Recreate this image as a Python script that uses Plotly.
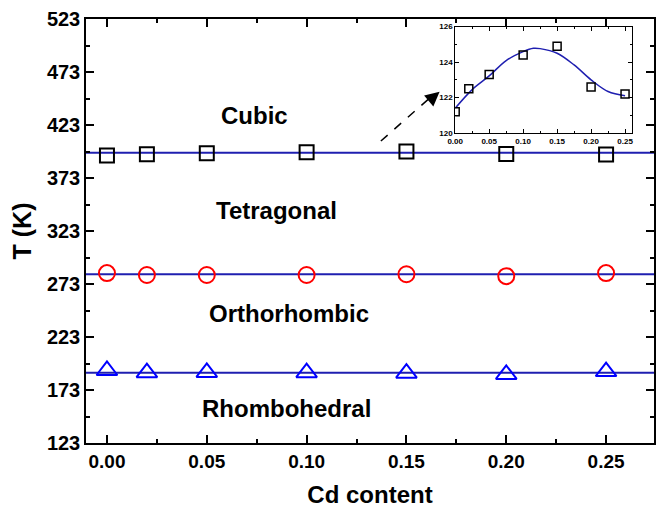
import plotly.graph_objects as go

# ---- data ----
cd = [0.00, 0.02, 0.05, 0.10, 0.15, 0.20, 0.25]
t_cubic = [394.2, 395.5, 396.3, 397.4, 397.9, 395.6, 395.2]
t_ortho = [283.3, 281.5, 281.5, 281.5, 282.2, 280.4, 283.3]
t_rhombo = [191.4, 189.3, 189.6, 189.3, 188.9, 187.7, 190.4]

fit_x = [-0.02, 0.30]
fit_cubic = [396.8, 396.8]
fit_ortho = [282.2, 282.2]
fit_rhombo = [189.3, 189.3]

inset_t = [121.2, 122.5, 123.3, 124.4, 124.9, 122.6, 122.2]
inset_fit_x = [0.0, 0.025, 0.05, 0.075, 0.10, 0.115, 0.125, 0.15, 0.175, 0.20, 0.225, 0.25]
inset_fit_t = [121.4, 122.45, 123.22, 124.09, 124.59, 124.78, 124.76, 124.5, 123.84, 123.0, 122.34, 122.1]

phase_labels = ["Cubic", "Tetragonal", "Orthorhombic", "Rhombohedral"]
phase_x = [0.074, 0.085, 0.091, 0.090]
phase_y = [432, 342, 245, 156]

x_ticks = [0.00, 0.05, 0.10, 0.15, 0.20, 0.25]
y_ticks = [123, 173, 223, 273, 323, 373, 423, 473, 523]

FONT = "Liberation Sans, Arial, sans-serif"
LINE_BLUE = "#1f1fb0"

fig = go.Figure()

# fitted lines
for fy in (fit_cubic, fit_ortho, fit_rhombo):
    fig.add_trace(go.Scatter(x=fit_x, y=fy, mode="lines",
                             line=dict(color=LINE_BLUE, width=2), showlegend=False,
                             hoverinfo="skip"))

fig.add_trace(go.Scatter(x=cd, y=t_cubic, mode="markers", showlegend=False,
                         marker=dict(symbol="square-open", size=14, color="black",
                                     line=dict(width=2, color="black"))))
fig.add_trace(go.Scatter(x=cd, y=t_ortho, mode="markers", showlegend=False,
                         marker=dict(symbol="circle-open", size=16, color="red",
                                     line=dict(width=2, color="red"))))
fig.add_trace(go.Scatter(x=cd, y=t_rhombo, mode="markers", showlegend=False,
                         marker=dict(symbol="triangle-up-open", size=18, color="blue",
                                     line=dict(width=2, color="blue"))))

# inset
fig.add_trace(go.Scatter(x=inset_fit_x, y=inset_fit_t, mode="lines", xaxis="x2", yaxis="y2",
                         line=dict(color=LINE_BLUE, width=1.5, shape="spline"),
                         showlegend=False))
fig.add_trace(go.Scatter(x=cd, y=inset_t, mode="markers", xaxis="x2", yaxis="y2",
                         showlegend=False,
                         marker=dict(symbol="square-open", size=8, color="black",
                                     line=dict(width=1.5, color="black"))))

for lab, px, py in zip(phase_labels, phase_x, phase_y):
    fig.add_annotation(x=px, y=py, xref="x", yref="y", text=lab, showarrow=False,
                       font=dict(family=FONT, size=24, color="black", weight="bold"))

# dashed arrow
fig.add_shape(type="line", xref="x", yref="y", x0=0.1372, y0=407.9, x1=0.1635, y1=451.5,
              line=dict(color="black", width=1.5, dash="dash"))
fig.add_annotation(x=0.1666, y=454.4, xref="x", yref="y", ax=-10, ay=8.5,
                   axref="pixel", ayref="pixel", text="", showarrow=True,
                   arrowhead=2, arrowsize=1.9, arrowwidth=1.5, arrowcolor="black")

axis_common = dict(showline=True, linecolor="black", linewidth=1.5, ticks="inside",
                   tickcolor="black", showgrid=False, zeroline=False, mirror="ticks")

fig.update_layout(
    width=658, height=511,
    margin=dict(l=86, r=2, t=19, b=68),
    plot_bgcolor="white", paper_bgcolor="white",
    font=dict(family=FONT, color="black"),
    xaxis=dict(range=[-0.0105, 0.274], tickvals=x_ticks,
               ticktext=[f"{v:.2f}" for v in x_ticks],
               ticklen=8, tickwidth=1.5,
               minor=dict(ticks="inside", ticklen=4, dtick=0.025, tick0=0, tickcolor="black"),
               tickfont=dict(family=FONT, size=19, weight="bold"),
               title=dict(text="Cd content", font=dict(family=FONT, size=24, weight="bold"),
                          standoff=16),
               **axis_common),
    yaxis=dict(range=[123, 523], tickvals=y_ticks, ticklen=8, tickwidth=1.5,
               minor=dict(ticks="inside", ticklen=4, dtick=25, tick0=123, tickcolor="black"),
               tickfont=dict(family=FONT, size=20, weight="bold"),
               title=dict(text="T (K)", font=dict(family=FONT, size=25, weight="bold"),
                          standoff=8),
               **axis_common),
    xaxis2=dict(domain=[0.650, 0.961], anchor="y2", range=[0, 0.26],
                tickvals=x_ticks, ticktext=[f"{v:.2f}" for v in x_ticks],
                ticklen=4, tickwidth=1,
                minor=dict(ticks="inside", ticklen=2, dtick=0.025, tick0=0, tickcolor="black"),
                tickfont=dict(family=FONT, size=8, weight="bold"),
                showline=True, linecolor="black", linewidth=1, ticks="inside",
                tickcolor="black", showgrid=False, zeroline=False, mirror="ticks"),
    yaxis2=dict(domain=[0.731, 0.982], anchor="x2", range=[120, 126],
                tickvals=[120, 122, 124, 126], ticklen=4, tickwidth=1,
                minor=dict(ticks="inside", ticklen=2, dtick=1, tick0=120, tickcolor="black"),
                tickfont=dict(family=FONT, size=8, weight="bold"),
                showline=True, linecolor="black", linewidth=1, ticks="inside",
                tickcolor="black", showgrid=False, zeroline=False, mirror="ticks"),
)

fig.write_html("out.html")
